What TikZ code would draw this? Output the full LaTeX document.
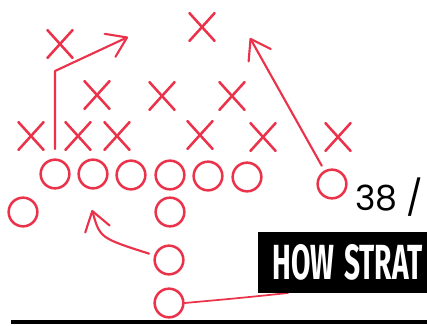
\documentclass[tikz,border=0pt]{standalone}
\usepackage{fontspec}
\usetikzlibrary{shapes.misc,arrows.meta}
\newfontfamily\numfont{Poppins}
\newfontfamily\headfont{Fira Sans}
\definecolor{pen}{RGB}{234,51,74}
\begin{document}
\begin{tikzpicture}[x=0.75pt,y=-0.75pt,
 penline/.style={draw=pen,line width=1.9pt,line cap=round,line join=round},
 xmark/.style={cross out,penline,minimum width=17pt,minimum height=19pt,inner sep=0pt},
 omark/.style={circle,penline,minimum size=21.5pt,inner sep=0pt},
 route/.style={draw=pen,line width=1.6pt,line cap=round,line join=round,
   -{Straight Barb[length=14pt,width=19pt,round]}},
]
\useasboundingbox (0,0) rectangle (427,325);
\clip (0,0) rectangle (427,325);
% defence
\node[xmark] (x1) at (60,44) {};
\node[xmark] (x2) at (202,27) {};
\node[xmark] (x3) at (97,95) {};
\node[xmark] (x4) at (162,96) {};
\node[xmark] (x5) at (232,96) {};
\node[xmark] (x6) at (31,136) {};
\node[xmark] (x7) at (78,136) {};
\node[xmark] (x8) at (117,136) {};
\node[xmark] (x9) at (200,135) {};
\node[xmark] (x10) at (263,137) {};
\node[xmark] (x11) at (338,137) {};
% offence
\node[omark] (o1) at (55,174) {};
\node[omark] (o2) at (93,174) {};
\node[omark] (o3) at (131,175) {};
\node[omark] (o4) at (170,175) {};
\node[omark] (o5) at (208,176) {};
\node[omark] (o6) at (247,177) {};
\node[omark] (o7) at (332,184) {};
\node[omark] (o8) at (23,212) {};
\node[omark] (o9) at (170,212) {};
\node[omark] (o10) at (169,260) {};
\node[omark] (o11) at (169,303) {};
% routes
\coordinate (k1) at (55,71);
\coordinate (t1) at (128,37);
\coordinate (t2) at (250,38);
\coordinate (t3) at (92,210);
\coordinate (e4) at (288,293);
\draw[route,shorten <=7pt] (o1.north) -- (k1) -- (t1);
\draw[route,shorten <=4pt] (o7) -- (t2);
\draw[route,shorten <=4pt] (o10) .. controls (100,238) .. (t3);
\draw[draw=pen,line width=1.3pt,line cap=round] (o11.east) .. controls (240,298) .. (e4);
% text
\node[anchor=base west,inner sep=0pt] (num) at (355,210) {\numfont\fontsize{26}{26}\selectfont 38 /};
\node[fill=black,text=white,anchor=north west,inner xsep=10.5pt,inner ysep=0pt,
  minimum height=45.75pt,text width=150pt,align=left] (title) at (258,232)
  {\headfont\bfseries\fontsize{37}{37}\selectfont\scalebox{0.57}[1]{HOW\hspace{0.35em}STRAT}};
\draw[line width=2.4pt] (11,322) -- (427,322);
\end{tikzpicture}
\end{document}
